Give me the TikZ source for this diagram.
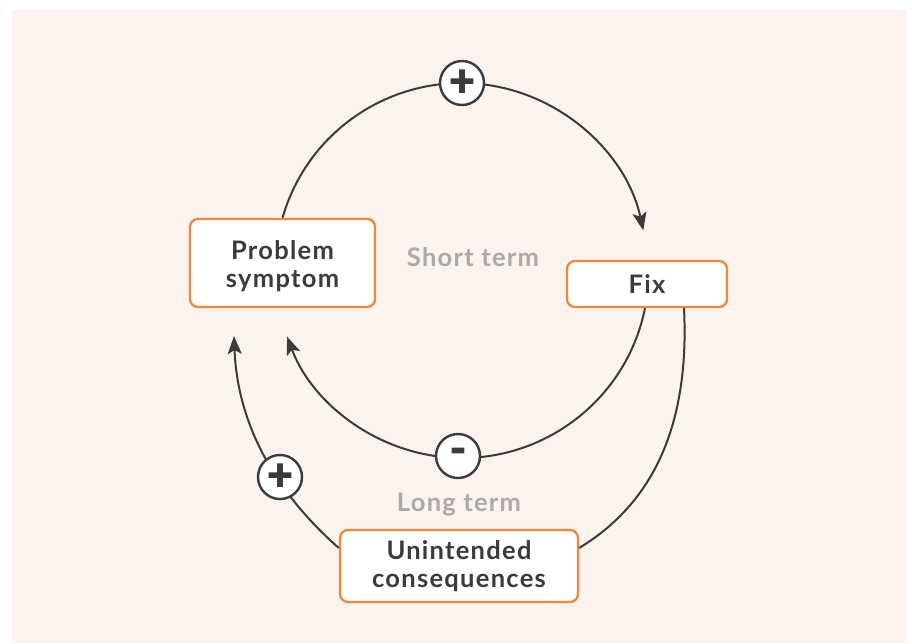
\documentclass[tikz,border=0pt]{standalone}
\usepackage{fontspec}
\setmainfont{Lato}[LetterSpace=5]
\newfontfamily\signfont{Lato}[BoldFeatures={FakeBold=3}]
\usetikzlibrary{arrows.meta}
\definecolor{bgpink}{RGB}{253,243,238}
\definecolor{boxorange}{RGB}{242,135,58}
\definecolor{ink}{RGB}{60,58,58}
\definecolor{termgrey}{RGB}{170,170,170}
\tikzset{
  box/.style={draw=boxorange, line width=2.3pt, fill=white, rounded corners=8pt,
    font=\bfseries\fontsize{25.5}{27.5}\selectfont, text=ink, align=center, inner sep=0pt},
  sign/.style={circle, draw=ink, line width=2.4pt, fill=white, minimum size=44pt,
    inner sep=0pt, font=\signfont\bfseries\fontsize{44}{44}\selectfont, text=ink},
  link/.style={draw=ink, line width=2pt},
  tip/.style={-{Stealth[length=18pt, width=14pt, inset=4pt]}},
  term/.style={font=\bfseries\fontsize{25.5}{26.5}\selectfont, text=termgrey},
}
\begin{document}
\begin{tikzpicture}[x=1pt, y=-1pt]
  \useasboundingbox (0,0) rectangle (912,643);
  \fill[bgpink] (12,10) rectangle (907,643);

  % boxes
  \node[box, minimum width=185pt, minimum height=88pt] (ps) at (282.5,263) {};
  \node[font=\bfseries\fontsize{25.5}{27.5}\selectfont, text=ink, align=center] (pslabel) at (282.5,266) {Problem\\symptom};
  \node[box, minimum width=160pt, minimum height=46pt] (fix) at (647,284) {Fix};
  \node[box, minimum width=238pt, minimum height=72pt] (uc) at (459,566) {Unintended\\consequences};

  % loop labels
  \node[term] (short) at (473,257) {Short term};
  \node[term] (long) at (459,505) {Long term};

  % short-term loop: symptom -> fix -> symptom
  \draw[link, tip] (ps.north) arc[start angle=196, end angle=348, radius=186];
  \draw[link, tip] ([xshift=-2pt]fix.south) arc[start angle=11.4, end angle=159.5, radius=186.7];

  % long-term loop: fix -> unintended consequences -> symptom
  \coordinate (ltip) at (234,336);
  \draw[link] ([xshift=37pt]fix.south) .. controls (690,430) and (650,505) .. ([yshift=18pt]uc.east);
  \draw[link, tip] ([yshift=18pt]uc.west) .. controls (292,507) and (238,440) .. (ltip);

  % polarity markers
  \node[sign] (p1) at (462,83) {+};
  \node[sign] (m1) at (458,456) {-};
  \node[sign] (p2) at (280,477) {+};
\end{tikzpicture}
\end{document}
